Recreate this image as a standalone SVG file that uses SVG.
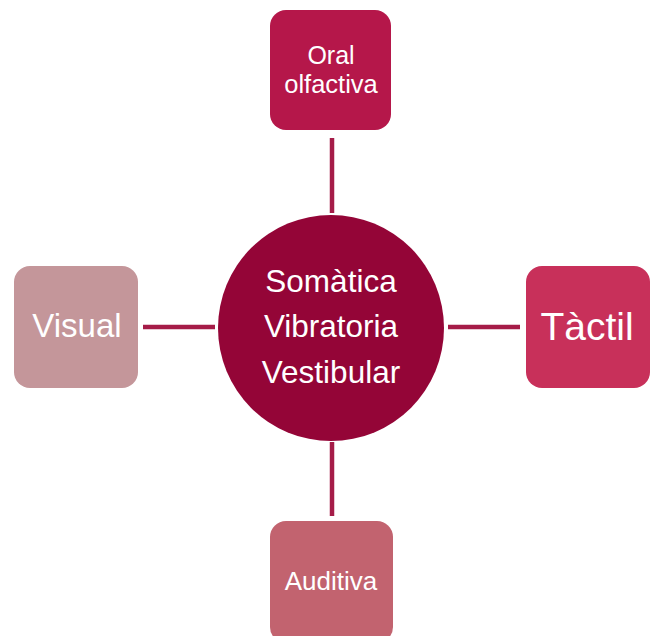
<svg xmlns="http://www.w3.org/2000/svg" width="654" height="636" viewBox="0 0 654 636">
<style>
.t{font-family:"Liberation Sans",Arial,sans-serif;fill:#ffffff;text-anchor:middle}
.c{stroke:#A51C48;stroke-width:4.5;fill:none}
</style>
<rect width="654" height="636" fill="#ffffff"/>
<g id="connectors">
<line class="c" x1="332" y1="138" x2="332" y2="213"/>
<line class="c" x1="143" y1="327" x2="215" y2="327"/>
<line class="c" x1="448" y1="327" x2="520" y2="327"/>
<line class="c" x1="332" y1="442" x2="332" y2="516"/>
</g>
<g id="center">
<circle cx="331" cy="328" r="113" fill="#940537"/>
<text class="t" x="331" y="292" font-size="31.5">Somàtica</text>
<text class="t" x="331" y="337" font-size="31.5">Vibratoria</text>
<text class="t" x="331" y="383" font-size="31.5">Vestibular</text>
</g>
<g id="oral">
<rect x="270" y="10" width="121" height="120" rx="16" fill="#B5174A"/>
<text class="t" x="331" y="64" font-size="25">Oral</text>
<text class="t" x="331" y="93" font-size="25.5">olfactiva</text>
</g>
<g id="visual">
<rect x="14" y="266" width="124" height="122" rx="16" fill="#C4969A"/>
<text class="t" x="77" y="337" font-size="33">Visual</text>
</g>
<g id="tactil">
<rect x="526" y="266" width="124" height="122" rx="16" fill="#C8305A"/>
<text class="t" x="587" y="340" font-size="39">Tàctil</text>
</g>
<g id="auditiva">
<rect x="270" y="521" width="123" height="122" rx="16" fill="#C2636F"/>
<text class="t" x="331" y="590" font-size="26">Auditiva</text>
</g>
</svg>
